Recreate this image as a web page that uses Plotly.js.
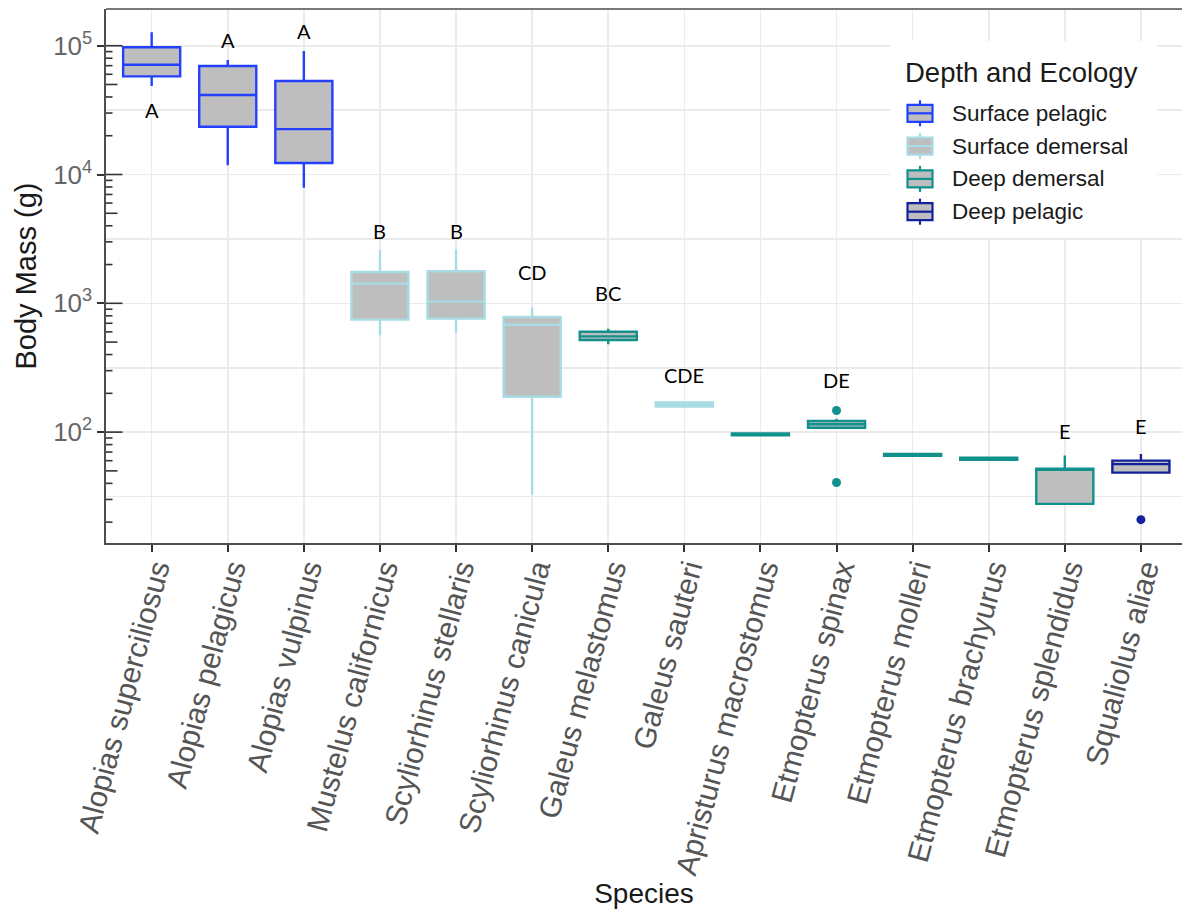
<!DOCTYPE html>
<html><head><meta charset="utf-8">
<script src="https://cdn.plot.ly/plotly-3.0.1.min.js"></script>
<style>html,body{margin:0;padding:0;background:#fff;overflow:hidden}</style>
</head><body><div id="chart" style="width:1182px;height:915px"></div>
<script>
const species = ["Alopias superciliosus","Alopias pelagicus","Alopias vulpinus","Mustelus californicus","Scyliorhinus stellaris","Scyliorhinus canicula","Galeus melastomus","Galeus sauteri","Apristurus macrostomus","Etmopterus spinax","Etmopterus molleri","Etmopterus brachyurus","Etmopterus splendidus","Squaliolus aliae"];
const groups = ["Surface pelagic","Surface demersal","Deep demersal","Deep pelagic"];
const groupColors = ["#2440ff","#a8dbe3","#12908c","#13229a"];
const speciesGroup = [0,0,0,1,1,1,2,1,2,2,2,2,2,3];
const q1Values     = [57800, 23500, 12300,  747,  760, 188, 519, 158, 94.5, 108, 65.5, 61.0, 27.7, 48.5];
const medianValues = [71100, 41400, 22500, 1422, 1036, 682, 554, 163, 96.0, 115, 66.7, 62.1, 51.0, 56.4];
const q3Values     = [97200, 69500, 53200, 1750, 1773, 783, 602, 170, 97.5, 122, 67.8, 63.2, 52.1, 60.1];
const lowerWhisker = [48600, 11800,  7890,  564,  592, 32.8, 480, 158, 94.5, 105.5, 65.5, 61.0, 27.7, 47.4];
const upperWhisker = [127000, 77400, 91000, 2594, 2630, 926, 635, 170, 97.5, 127, 67.8, 63.2, 65.8, 67.5];
const outlierSpecies = ["Etmopterus spinax","Etmopterus spinax","Squaliolus aliae"];
const outlierValues = [147, 40.6, 20.9];
const letterSpecies = ["Alopias superciliosus","Alopias pelagicus","Alopias vulpinus","Mustelus californicus","Scyliorhinus stellaris","Scyliorhinus canicula","Galeus melastomus","Galeus sauteri","Etmopterus spinax","Etmopterus splendidus","Squaliolus aliae"];
const letterText = ["A","A","A","B","B","CD","BC","CDE","DE","E","E"];
const letterHeight = [31700, 110800, 130000, 3620, 3620, 1740, 1197, 277, 252, 101.5, 112];
const yTickValues = [100, 1000, 10000, 100000];
const yTickText = ["10<sup>2</sup>", "10<sup>3</sup>", "10<sup>4</sup>", "10<sup>5</sup>"];
const legendTitle = "Depth and Ecology";

const traces = [];
groups.forEach((g, gi) => {
  const idx = species.map((s, i) => i).filter(i => speciesGroup[i] === gi);
  traces.push({
    type: 'box', name: g,
    x: idx.map(i => species[i]),
    q1: idx.map(i => q1Values[i]),
    median: idx.map(i => medianValues[i]),
    q3: idx.map(i => q3Values[i]),
    lowerfence: idx.map(i => lowerWhisker[i]),
    upperfence: idx.map(i => upperWhisker[i]),
    width: 0.75, whiskerwidth: 0, boxpoints: false,
    fillcolor: '#bebebe',
    line: {color: groupColors[gi], width: 2.4},
    hoverinfo: 'skip', showlegend: false
  });
});
outlierSpecies.forEach((s, i) => {
  const gi = speciesGroup[species.indexOf(s)];
  traces.push({
    type: 'scatter', mode: 'markers', x: [s], y: [outlierValues[i]],
    marker: {color: groupColors[gi], size: 9}, showlegend: false, hoverinfo: 'skip'
  });
});

// plot-area geometry (pixels) for the legend drawn in paper space
const L = 106, T = 9, W = 1076, H = 534;
const px = p => (p - L) / W;
const py = p => (T + H - p) / H;

const yMin = 1.139, yMax = 5.285;
const shapes = [];
for (let k = 1; k <= 5; k++) {
  for (let m = 1; m <= 9; m++) {
    const v = m * Math.pow(10, k);
    const lv = Math.log10(v);
    if (lv < yMin || lv > yMax) continue;
    const len = m === 1 ? 16.5 : (m === 5 ? 11.5 : 6.5);
    shapes.push({type: 'line', xref: 'paper', yref: 'y', xsizemode: 'pixel', xanchor: 0,
      x0: 0, x1: len, y0: v, y1: v, line: {color: '#333333', width: 1.6}});
  }
}
shapes.push({type: 'line', xref: 'paper', yref: 'paper', x0: 0, x1: 1, y0: 1, y1: 1,
  line: {color: '#4d4d4d', width: 1.6}});

// legend box
shapes.push({type: 'rect', xref: 'paper', yref: 'paper', x0: px(890), x1: px(1157), y0: py(41), y1: py(238),
  fillcolor: '#ffffff', line: {width: 0}, layer: 'above'});
const annotations = [];
annotations.push({xref: 'paper', yref: 'paper', x: px(903), y: py(72.5), text: legendTitle,
  showarrow: false, xanchor: 'left', yanchor: 'middle',
  font: {size: 27.5, color: '#1a1a1a'}});
groups.forEach((g, gi) => {
  const cy = 113.3 + gi * 32.8;
  const c = groupColors[gi];
  shapes.push({type: 'line', xref: 'paper', yref: 'paper', x0: px(920), x1: px(920), y0: py(cy - 13), y1: py(cy + 13),
    line: {color: c, width: 2.2}, layer: 'above'});
  shapes.push({type: 'rect', xref: 'paper', yref: 'paper', x0: px(907.5), x1: px(932.5), y0: py(cy - 8.5), y1: py(cy + 8.5),
    fillcolor: '#bebebe', line: {color: c, width: 2.2}, layer: 'above'});
  shapes.push({type: 'line', xref: 'paper', yref: 'paper', x0: px(907.5), x1: px(932.5), y0: py(cy), y1: py(cy),
    line: {color: c, width: 2.2}, layer: 'above'});
  annotations.push({xref: 'paper', yref: 'paper', x: px(950), y: py(cy), text: g,
    showarrow: false, xanchor: 'left', yanchor: 'middle',
    font: {size: 22.5, color: '#1a1a1a'}});
});

letterSpecies.forEach((s, i) => annotations.push({
  x: s, y: Math.log10(letterHeight[i]), xref: 'x', yref: 'y', text: letterText[i],
  showarrow: false, xanchor: 'center', yanchor: 'middle',
  font: {family: 'Lato, "Open Sans", sans-serif', size: 20, color: '#000000'}
}));

const minorGrid = [1.5, 2.5, 3.5, 4.5].map(e => Math.pow(10, e));

const layout = {
  width: 1182, height: 915,
  margin: {l: L, r: 0, t: T, b: 915 - T - H},
  paper_bgcolor: '#ffffff', plot_bgcolor: '#ffffff',
  font: {family: '"Liberation Sans", Arial, sans-serif', color: '#1a1a1a'},
  boxmode: 'overlay',
  showlegend: false,
  xaxis: {
    type: 'category', categoryorder: 'array', categoryarray: species,
    range: [-0.6, 13.54],
    showgrid: true, gridcolor: '#ebebeb', gridwidth: 1.6,
    showline: true, linecolor: '#4d4d4d', linewidth: 1.6,
    ticks: 'outside', ticklen: 7, tickwidth: 2, tickcolor: '#333333',
    tickangle: -75, ticklabelstandoff: -12, ticklabelshift: 4,
    tickfont: {size: 30, color: '#555555'},
    title: {text: 'Species', font: {size: 28, color: '#1a1a1a'}, standoff: 4},
    automargin: false, zeroline: false, fixedrange: true
  },
  yaxis: {
    type: 'log', range: [yMin, yMax],
    tickmode: 'array', tickvals: yTickValues, ticktext: yTickText,
    showgrid: true, gridcolor: '#ebebeb', gridwidth: 1.6,
    minor: {tickmode: 'array', tickvals: minorGrid, showgrid: true, gridcolor: '#ebebeb', gridwidth: 1.6, ticks: ''},
    showline: true, linecolor: '#4d4d4d', linewidth: 1.6,
    ticks: 'outside', ticklen: 7, tickwidth: 2, tickcolor: '#333333',
    tickfont: {size: 26, color: '#666666'},
    title: {text: 'Body Mass (g)', font: {size: 29, color: '#1a1a1a'}, standoff: 8},
    automargin: false, zeroline: false, fixedrange: true
  },
  shapes: shapes,
  annotations: annotations
};
Plotly.newPlot('chart', traces, layout, {staticPlot: true, displayModeBar: false});
</script></body></html>
